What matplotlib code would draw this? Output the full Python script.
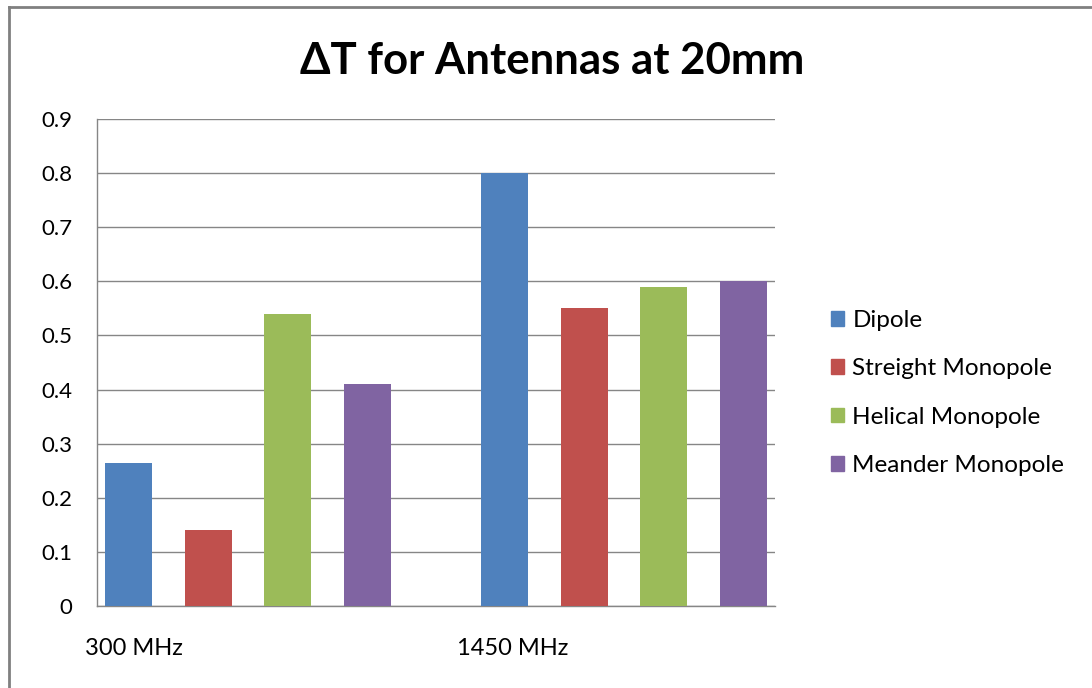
import matplotlib
matplotlib.use("Agg")
import matplotlib.pyplot as plt
from matplotlib.patches import Rectangle
import numpy as np

categories = ["300 MHz", "1450 MHz"]
series = ["Dipole", "Streight Monopole", "Helical Monopole", "Meander Monopole"]
dipole = [0.265, 0.80]
streight = [0.14, 0.55]
helical = [0.54, 0.59]
meander = [0.41, 0.60]
values = [dipole, streight, helical, meander]
colors = ["#4F81BD", "#C0504D", "#9BBB59", "#8064A2"]
yticks = [0, 0.1, 0.2, 0.3, 0.4, 0.5, 0.6, 0.7, 0.8, 0.9]
ytick_labels = ["0", "0.1", "0.2", "0.3", "0.4", "0.5", "0.6", "0.7", "0.8", "0.9"]

plt.rcParams['font.family'] = ['Lato', 'DejaVu Sans']

W, H = 1092, 688
fig = plt.figure(figsize=(W / 100, H / 100), dpi=100)
# outer border (left/top visible)
fig.add_artist(plt.Line2D([8.5 / W, 8.5 / W], [0, 1 - 7 / H], transform=fig.transFigure, color="#808080", lw=2))
fig.add_artist(plt.Line2D([8.5 / W, 1], [1 - 7 / H, 1 - 7 / H], transform=fig.transFigure, color="#808080", lw=2))

left, right, top, bottom = 97, 775, 119, 606
ax = fig.add_axes([left / W, 1 - bottom / H, (right - left) / W, (bottom - top) / H])

group_offset = 4.73
bar_w = 0.59
for i, (name, vals, c) in enumerate(zip(series, values, colors)):
    xs = [i + g * group_offset for g in range(len(categories))]
    ax.bar(xs, vals, width=bar_w, color=c, label=name, zorder=3)

ax.set_xlim(-0.396, 3 + group_offset + 0.396)
ax.set_ylim(0, 0.9)
ax.set_yticks(yticks)
ax.set_yticklabels(ytick_labels, fontsize=16)
ax.yaxis.grid(True, color="#868686", lw=1, zorder=0)
ax.tick_params(axis="y", length=0, pad=18)
ax.tick_params(axis="x", length=0)
ax.set_xticks([])
for s in ["top", "right"]:
    ax.spines[s].set_visible(False)
for s in ["left", "bottom"]:
    ax.spines[s].set_color("#868686")
    ax.spines[s].set_linewidth(1)
for lab in ax.get_yticklabels():
    lab.set_horizontalalignment("right")

# category labels
label_x = [-0.547, 4.13]
for cat, lx in zip(categories, label_x):
    ax.text(lx, -0.087, cat, transform=ax.get_xaxis_transform(), ha="left", va="center", fontsize=17)

fig.text(552 / W, 1 - 61 / H, "ΔT for Antennas at 20mm", ha="center", va="center",
         fontsize=31.5, fontweight="bold")

handles = [Rectangle((0, 0), 1, 1, color=c) for c in colors]
leg = fig.legend(handles, series, loc="center left", bbox_to_anchor=(809 / W, 1 - 393 / H),
                 frameon=False, fontsize=17.5, handlelength=0.55, handleheight=0.55,
                 handletextpad=0.33, labelspacing=1.12)

fig.savefig("out.png", dpi=100, facecolor="white")
